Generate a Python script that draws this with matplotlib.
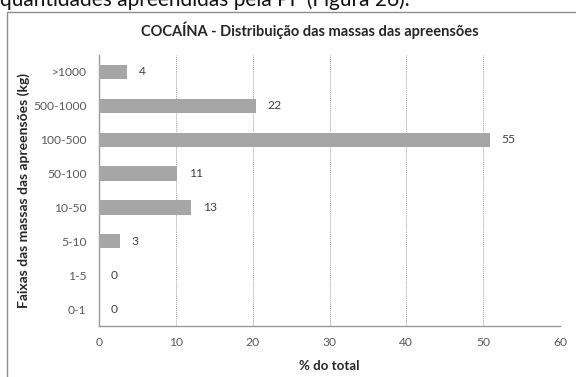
import matplotlib
matplotlib.use("Agg")
import matplotlib.pyplot as plt
from matplotlib.patches import Rectangle

# Seizure mass classes (kg) and number of seizures in each class
categories = ["0-1", "1-5", "5-10", "10-50", "50-100", "100-500", "500-1000", ">1000"]
counts = [0, 0, 3, 13, 11, 55, 22, 4]
xticks = [0, 10, 20, 30, 40, 50, 60]

total = sum(counts)
percents = [100.0 * c / total for c in counts]

plt.rcParams['font.family'] = ['Lato', 'DejaVu Sans']

fig = plt.figure(figsize=(5.76, 3.77), dpi=100)
W, H = 576, 377

# running text line above the chart frame (cut by the page edge)
fig.text(0.0, 1 - 6 / H, "quantidades apreendidas pela PF (Figura 26).",
         fontsize=15, color="#111111", va="baseline", ha="left")

# chart frame
fig.patches.append(Rectangle((7 / W, -0.1), 1.2, (H - 12) / H + 0.1,
                             transform=fig.transFigure, fill=False,
                             edgecolor="#8c8c8c", linewidth=1.0))

ax = fig.add_axes([99 / W, 51 / H, 461 / W, 271 / H])
ypos = list(range(len(categories)))
ax.barh(ypos, percents, height=0.42, color="#a6a6a6", edgecolor="none",
        zorder=3)

for y, p, c in zip(ypos, percents, counts):
    ax.text(p + 1.5, y, str(c), va="center", ha="left", fontsize=8.7,
            color="#404040")

ax.set_xlim(0, 60)
ax.set_ylim(-0.5, len(categories) - 0.5)
ax.set_xticks(xticks)
ax.set_xticklabels([str(t) for t in xticks])
ax.set_yticks(ypos)
ax.set_yticklabels(categories)
ax.tick_params(axis="both", length=0, labelsize=8.7, colors="#595959")
ax.tick_params(axis="x", pad=8)
ax.tick_params(axis="y", pad=9)

for t in xticks[1:]:
    ax.axvline(t, color="#a0a0a0", linestyle=(0, (1, 1)), linewidth=0.7,
               zorder=1)

for s in ["top", "right"]:
    ax.spines[s].set_visible(False)
for s in ["left", "bottom"]:
    ax.spines[s].set_color("#9a9a9a")
    ax.spines[s].set_linewidth(1.0)

ax.set_xlabel("% do total", fontsize=9.5, fontweight="bold", color="#262626")
ax.xaxis.set_label_coords(0.5, -34 / 271)
ax.set_ylabel("Faixas das massas das apreensões (kg)", fontsize=10,
              fontweight="bold", color="#262626")
ax.yaxis.set_label_coords(-69 / 461, 0.5)

fig.text(310 / W, 1 - 30 / H, "COCAÍNA - Distribuição das massas das apreensões",
         fontsize=10.5, fontweight="bold", color="#262626", ha="center",
         va="center")

fig.savefig("out.png", dpi=100)
